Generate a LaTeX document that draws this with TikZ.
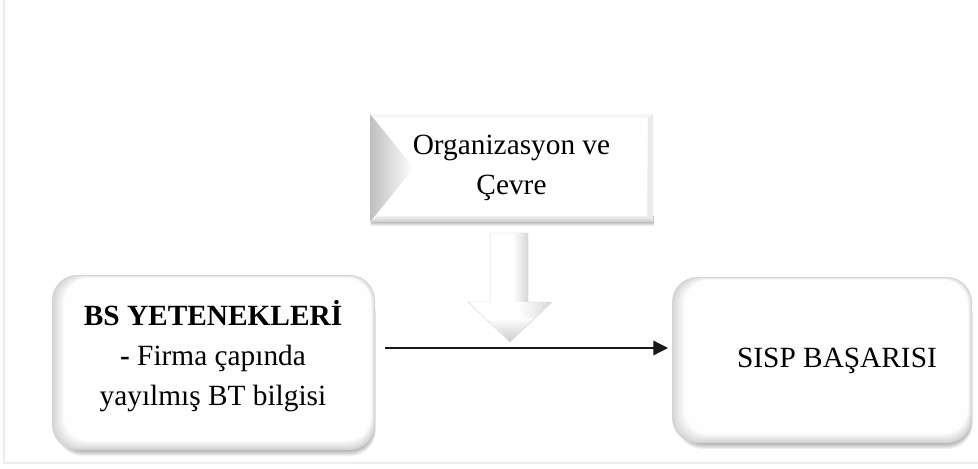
\documentclass[tikz,border=0pt]{standalone}
\usepackage{fontspec}
\setmainfont{Liberation Serif}
\usetikzlibrary{arrows.meta,calc}

% horizontal shading for the block arrow: grey edges, bright left-centre
\pgfdeclarehorizontalshading{arrowshade}{100bp}{color(0bp)=(gray!45); color(28bp)=(white); color(55bp)=(white); color(100bp)=(gray!70)}

% soft rounded box: shadow, grey rim fading to a white face (coordinates in px)
\newcommand\softbox[4]{%
  \foreach \k in {1,...,6}{
    \fill[black, opacity=0.055, rounded corners=19pt]
      (#1+5,#2+12) rectangle (#3-1+0.3*\k,#4+\k);
  }
  \fill[gray!34, rounded corners=19pt] (#1,#2) rectangle (#3,#4);
  \foreach \i in {1,...,11}{
    \pgfmathsetmacro\g{max(0,34-3*\i)}
    \fill[gray!\g, rounded corners=19pt]
      (#1+1.1*\i,#2+0.25*\i) rectangle (#3-0.35*\i,#4-0.8*\i);
  }
}

\begin{document}
\begin{tikzpicture}[x=0.75pt,y=-0.75pt,
  txt/.style={font=\fontsize{22}{30}\selectfont, align=center, inner sep=0pt},
  frame/.style={inner sep=0pt, outer sep=0pt},
  link/.style={draw=black!90, line width=0.9pt,
    -{Triangle[length=11pt,width=11pt]}},
]
\useasboundingbox (0,0) rectangle (978,468);

% page rules on the left and bottom
\draw[gray!14, line width=1.5pt] (3.5,0) -- (3.5,463) -- (978,463);

% ---------- left rounded box ----------
\softbox{52}{275}{375}{450}
\node[frame, minimum width=242.25pt, minimum height=131.25pt] (bs) at (213.5,362.5) {};
\node[txt] (bstext) at (213,356) {\textbf{BS YETENEKLERİ}\\\textbf{-} Firma çapında\\yayılmış BT bilgisi};

% ---------- right rounded box ----------
\softbox{672}{277}{972}{443}
\node[frame, minimum width=225pt, minimum height=124.5pt] (sisp) at (822,360) {};
\node[txt] (sisptext) at (837,360.5) {SISP BAŞARISI};

% ---------- bevelled box on top ----------
\foreach \k in {1,...,4}{
  \fill[black, opacity=0.07] (371,216) rectangle (654,222+\k);
}
\fill[white] (370,114) rectangle (653,222);
% top face
\fill[gray!6] (370,114) -- (653,114) -- (648,118) -- (376,118) -- cycle;
% right face
\fill[gray!16] (653,114) -- (653,222) -- (647,216) -- (648,118) -- cycle;
% bottom face
\shade[top color=gray!12, bottom color=gray!40]
  (370,222) -- (653,222) -- (647,216) -- (378,216) -- cycle;
% left face
\shade[left color=gray!50, right color=white]
  (370,114) -- (414,168) -- (370,222) -- cycle;
\node[frame, minimum width=212.25pt, minimum height=81pt] (org) at (511.5,168) {};
\node[txt] (orgtext) at (511.5,168) {Organizasyon ve\\Çevre};

% ---------- block arrow pointing down ----------
\shade[shading=arrowshade]
  (490,233) -- (528,233) -- (528,303) -- (490,303) -- cycle;
\shade[shading=arrowshade]
  (468,302) -- (552,302) -- (510,342) -- cycle;
% darker facets towards the tip
\shade[top color=white, bottom color=gray!50, opacity=0.8]
  (486,318) -- (534,318) -- (510,342) -- cycle;
\draw[gray!35, line width=0.3pt]
  (490,233) -- (528,233) -- (528,302) -- (552,302) -- (510,342)
  -- (468,302) -- (490,302) -- cycle;

% ---------- connector ----------
\coordinate (lvl) at (0,348);
\draw[link, shorten <=7.5pt, shorten >=3pt] (bs.east |- lvl) -- (sisp.west |- lvl);
\end{tikzpicture}
\end{document}
